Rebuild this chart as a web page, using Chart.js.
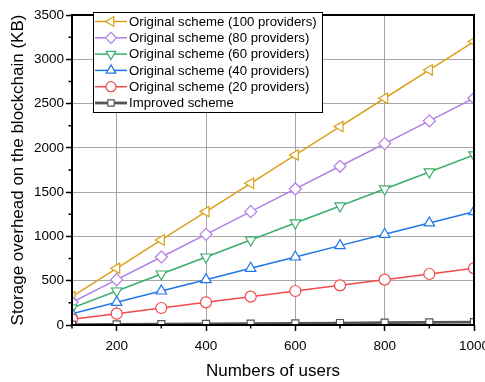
<!DOCTYPE html>
<html>
<head>
<meta charset="utf-8">
<script src="https://cdn.jsdelivr.net/npm/chart.js@4.4.1/dist/chart.umd.min.js"></script>
<style>
  html, body { margin: 0; padding: 0; background: #ffffff; }
  #wrap { width: 485px; height: 382px; position: relative; }
</style>
</head>
<body>
<div id="wrap"><canvas id="c" width="485" height="382"></canvas></div>
<script>
// Number of users (x axis)
const users = [100, 200, 300, 400, 500, 600, 700, 800, 900, 1000];

// Storage overhead on the blockchain (KB)
const original100 = [320, 640, 960, 1280, 1600, 1920, 2240, 2560, 2880, 3200];
const original80  = [256, 512, 768, 1024, 1280, 1536, 1792, 2048, 2304, 2560];
const original60  = [192, 384, 576, 768, 960, 1152, 1344, 1536, 1728, 1920];
const original40  = [128, 256, 384, 512, 640, 768, 896, 1024, 1152, 1280];
const original20  = [64, 128, 192, 256, 320, 384, 448, 512, 576, 640];
const improved    = [3, 6, 10, 13, 16, 19, 22, 26, 29, 32];

const xTickValues = [200, 400, 600, 800, 1000];
const yTickValues = [0, 500, 1000, 1500, 2000, 2500, 3000, 3500];

const FONT = '"Liberation Sans", Arial, sans-serif';

function series(label, values, color, pointStyle, rotation, width, radius) {
  return {
    label: label,
    data: users.map((u, i) => ({ x: u, y: values[i] })),
    borderColor: color,
    backgroundColor: '#ffffff',
    borderWidth: width,
    pointStyle: pointStyle,
    rotation: rotation,
    pointRadius: radius,
    pointBorderWidth: 1.2,
    pointBorderColor: color,
    pointBackgroundColor: '#ffffff',
    tension: 0,
    clip: 0
  };
}

const datasets = [
  series('Improved scheme', improved, '#555555', 'rect', 0, 2.8, 5),
  series('Original scheme (20 providers)', original20, '#f24a4a', 'circle', 0, 1.5, 5.5),
  series('Original scheme (40 providers)', original40, '#1f77e6', 'triangle', 0, 1.5, 6),
  series('Original scheme (60 providers)', original60, '#3bae6b', 'triangle', 180, 1.5, 6),
  series('Original scheme (80 providers)', original80, '#b27de6', 'rectRot', 0, 1.5, 6),
  series('Original scheme (100 providers)', original100, '#d9a118', 'triangle', -90, 1.5, 6)
];

// Black frame, minor ticks and the boxed legend
const framePlugin = {
  id: 'frame',
  afterDraw(chart) {
    const ctx = chart.ctx;
    const a = chart.chartArea;
    const xs = chart.scales.x, ys = chart.scales.y;
    ctx.save();
    // minor ticks
    ctx.strokeStyle = '#000';
    ctx.lineWidth = 1.5;
    ctx.beginPath();
    for (let v = 100; v <= 1000; v += 200) {
      const px = xs.getPixelForValue(v);
      ctx.moveTo(px, a.bottom); ctx.lineTo(px, a.bottom + 3.5);
    }
    for (let v = 250; v <= 3500; v += 500) {
      const py = ys.getPixelForValue(v);
      ctx.moveTo(a.left, py); ctx.lineTo(a.left - 3.5, py);
    }
    ctx.stroke();
    // frame
    ctx.lineWidth = 2;
    ctx.strokeRect(a.left, a.top, a.right - a.left, a.bottom - a.top);

    // legend
    const lx = 93, ly = 12, lw = 229, lh = 100;
    ctx.fillStyle = '#ffffff';
    ctx.fillRect(lx, ly, lw, lh);
    ctx.lineWidth = 1;
    ctx.strokeStyle = '#000';
    ctx.strokeRect(lx + 0.5, ly + 0.5, lw, lh);
    const order = chart.data.datasets.slice().reverse();
    const rowH = 16.3;
    ctx.font = '13.2px ' + FONT;
    ctx.textBaseline = 'middle';
    order.forEach((ds, i) => {
      const cy = ly + 9.5 + i * rowH;
      ctx.strokeStyle = ds.borderColor;
      ctx.lineWidth = ds.borderWidth;
      ctx.beginPath();
      ctx.moveTo(lx + 2, cy); ctx.lineTo(lx + 34, cy);
      ctx.stroke();
      ctx.fillStyle = '#ffffff';
      ctx.lineWidth = 1.2;
      Chart.helpers.drawPoint(ctx, {
        pointStyle: ds.pointStyle,
        rotation: ds.rotation,
        radius: ds.pointRadius - 0.5,
        borderWidth: 1.2
      }, lx + 18, cy);
      ctx.fillStyle = '#000';
      ctx.fillText(ds.label, lx + 36, cy + 0.5);
    });
    ctx.restore();
  }
};

new Chart(document.getElementById('c'), {
  type: 'line',
  data: { datasets: datasets },
  options: {
    responsive: false,
    animation: false,
    devicePixelRatio: 1,
    layout: { padding: { left: 0, right: 11, top: 15, bottom: 0 } },
    plugins: {
      legend: { display: false },
      tooltip: { enabled: false }
    },
    scales: {
      x: {
        type: 'linear',
        min: 100,
        max: 1000,
        afterBuildTicks(scale) { scale.ticks = xTickValues.map(v => ({ value: v })); },
        afterFit(scale) { scale.height = 57; scale.paddingLeft = 0; scale.paddingRight = 0; },
        ticks: {
          font: { family: FONT, size: 13.5 },
          color: '#000',
          padding: 7,
          maxRotation: 0,
          callback: (v) => String(v)
        },
        grid: {
          color: (c) => (c.tick && (c.tick.value === 1000)) ? 'rgba(0,0,0,0)' : '#a6a6a6',
          lineWidth: 1,
          tickColor: '#000',
          tickLength: 6,
          tickWidth: 1.5,
          drawTicks: true
        },
        border: { display: false },
        title: {
          display: true,
          text: 'Numbers of users',
          font: { family: FONT, size: 17 },
          color: '#000',
          padding: { top: 4, bottom: 0 }
        }
      },
      y: {
        type: 'linear',
        min: 0,
        max: 3500,
        afterBuildTicks(scale) { scale.ticks = yTickValues.map(v => ({ value: v })); },
        afterFit(scale) { scale.width = 72; scale.paddingTop = 0; scale.paddingBottom = 0; },
        ticks: {
          font: { family: FONT, size: 13.5 },
          color: '#000',
          padding: 2,
          callback: (v) => String(v)
        },
        grid: {
          color: (c) => (c.tick && (c.tick.value === 0 || c.tick.value === 3500)) ? 'rgba(0,0,0,0)' : '#a6a6a6',
          lineWidth: 1,
          tickColor: '#000',
          tickLength: 6,
          tickWidth: 1.5
        },
        border: { display: false },
        title: {
          display: true,
          text: 'Storage overhead on the blockchain (KB)',
          font: { family: FONT, size: 17 },
          color: '#000',
          padding: { top: 8, bottom: 0 }
        }
      }
    }
  },
  plugins: [framePlugin]
});
</script>
</body>
</html>
